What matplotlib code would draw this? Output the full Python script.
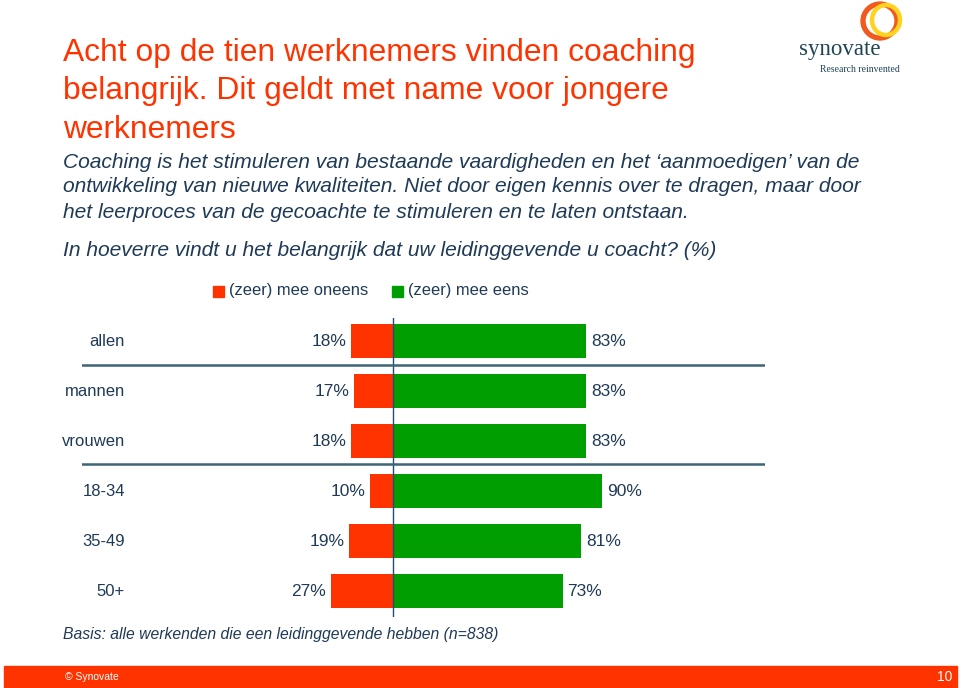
import matplotlib
matplotlib.use("Agg")
import matplotlib.pyplot as plt
from matplotlib.patches import Rectangle, Ellipse

# data
groups = ["allen", "mannen", "vrouwen", "18-34", "35-49", "50+"]
disagree = [18, 17, 18, 10, 19, 27]
agree = [83, 83, 83, 90, 81, 73]
legend_labels = ["(zeer) mee oneens", "(zeer) mee eens"]

RED = "#FF3300"
GREEN = "#009E00"
NAVY = "#1F3A56"
LINE = "#3E6478"

plt.rcParams["font.family"] = ["Liberation Sans", "DejaVu Sans"]

W, H = 960, 688
fig = plt.figure(figsize=(W / 100, H / 100), dpi=100)


def fx(px):
    return px / W


def fy(py):
    return 1 - py / H


# title
title = ["Acht op de tien werknemers vinden coaching",
         "belangrijk. Dit geldt met name voor jongere",
         "werknemers"]
for i, line in enumerate(title):
    fig.text(fx(63), fy(53 + 38.5 * i), line, color=RED, fontsize=22.9, va="center")

sub = ["Coaching is het stimuleren van bestaande vaardigheden en het \u2018aanmoedigen\u2019 van de",
       "ontwikkeling van nieuwe kwaliteiten. Niet door eigen kennis over te dragen, maar door",
       "het leerproces van de gecoachte te stimuleren en te laten ontstaan."]
for i, line in enumerate(sub):
    fig.text(fx(63), fy(162 + 25 * i), line, color=NAVY, fontsize=15.1,
             style="italic", va="center")
fig.text(fx(63), fy(251), "In hoeverre vindt u het belangrijk dat uw leidinggevende u coacht? (%)",
         color=NAVY, fontsize=15.1, style="italic", va="center")

# logo
fig.text(fx(799), fy(50), "synovate", family=["Liberation Serif"], fontsize=16.5,
         color="#1E4456", va="center")
fig.text(fx(820), fy(70), "Research reinvented", family=["Liberation Serif"], fontsize=7,
         color="#1E4456", va="center")
fig.patches.append(Ellipse((fx(880), fy(21)), fx(34), 34 / H, fill=False, lw=3.8,
                           ec="#F05A1E", transform=fig.transFigure))
fig.patches.append(Ellipse((fx(886), fy(20)), fx(28), 30 / H, fill=False, lw=3.2,
                           ec="#FFD21F", transform=fig.transFigure))

# legend
for (x0, lab, col) in [(213, legend_labels[0], RED), (392, legend_labels[1], GREEN)]:
    fig.patches.append(Rectangle((fx(x0), fy(297)), fx(11), 11 / H, color=col,
                                 transform=fig.transFigure))
    fig.text(fx(x0 + 16), fy(291), lab, color=NAVY, fontsize=11.9, va="center")

# bars
left, right, top, bottom = 82, 765, 318, 617
ax = fig.add_axes([fx(left), fy(bottom), fx(right - left), (bottom - top) / H])
ax.set_xlim(-134, 160)
ax.set_ylim(5.52, -0.46)
ax.axis("off")

ys = list(range(len(groups)))
ax.barh(ys, [-d for d in disagree], height=0.68, color=RED)
ax.barh(ys, agree, height=0.68, color=GREEN)
ax.axvline(0, color="#1F4E79", lw=1)
for yl in (0.47, 2.45):
    ax.axhline(yl, color=LINE, lw=1.8)

for y, g, d, a in zip(ys, groups, disagree, agree):
    ax.text(-115.5, y, g, ha="right", va="center", color=NAVY, fontsize=12)
    ax.text(-d - 2, y, f"{d}%", ha="right", va="center", color=NAVY, fontsize=12.5)
    ax.text(a + 2, y, f"{a}%", ha="left", va="center", color=NAVY, fontsize=12.5)

fig.text(fx(63), fy(635), "Basis: alle werkenden die een leidinggevende hebben (n=838)",
         color=NAVY, fontsize=11.3, style="italic", va="center")

# footer
fig.patches.append(Rectangle((fx(4), fy(687)), fx(953), 21 / H, color=RED,
                             transform=fig.transFigure))
fig.text(fx(65), fy(677), "\u00a9 Synovate", color="white", fontsize=7.5, va="center")
fig.text(fx(952), fy(677), "10", color="white", fontsize=10, va="center", ha="right")

fig.savefig("out.png", dpi=100)
